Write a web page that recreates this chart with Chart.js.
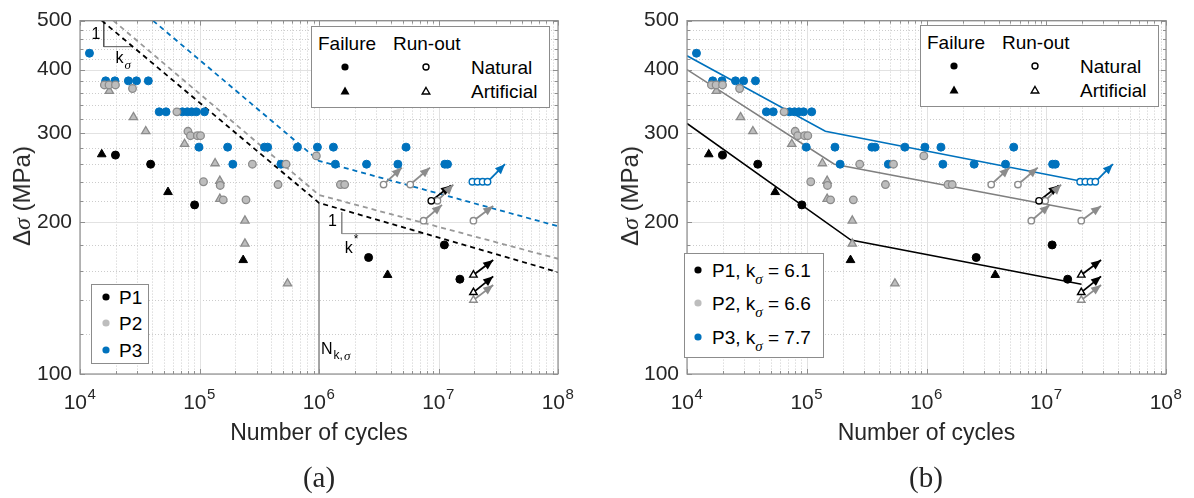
<!DOCTYPE html>
<html>
<head>
<meta charset="utf-8">
<title>S-N data</title>
<script src="https://cdn.jsdelivr.net/npm/chart.js@4.4.1/dist/chart.umd.min.js"></script>
<style>
  body { margin: 0; background: #fff; }
  #wrap { position: relative; width: 1194px; height: 498px; overflow: hidden;
          font-family: "Liberation Sans", Arial, Helvetica, sans-serif; color: #262626; }
  canvas { position: absolute; top: 0; }
  #chartA { left: 0; }
  #chartB { left: 597px; }
  .ylab { position: absolute; font-size: 24px; white-space: nowrap; transform: translate(-50%, -50%) rotate(-90deg); }
  .cap { position: absolute; font-family: "Liberation Serif", "DejaVu Serif", serif; font-size: 29px; transform: translate(-50%, -50%); }
  .box { position: absolute; border: 1px solid #8c8c8c; background: #fff; box-sizing: border-box; }
  .lg { position: absolute; font-size: 19px; line-height: 1; white-space: nowrap; color: #000; transform: translateY(-50%); }
  .mk { position: absolute; transform: translate(-50%, -50%); line-height: 0; }
  .sg { font-family: "Liberation Serif", "DejaVu Serif", serif; font-style: italic; font-size: 15px; position: relative; top: 7px; }
</style>
</head>
<body>
<div id="wrap">
  <canvas id="chartA" width="597" height="498"></canvas>
  <canvas id="chartB" width="597" height="498"></canvas>
  <div id="overlay"></div>
</div>
<script>
// ---------- axes ----------
const xTicks = [1e4, 1e5, 1e6, 1e7, 1e8];
const xTickExp = ['4', '5', '6', '7', '8'];
const yTicks = [100, 200, 300, 400, 500];

// ---------- P1 (black) ----------
const p1FailNatN = [1.98e4, 3.9e4, 9.1e4, 2.6e6, 1.12e7, 1.51e7];
const p1FailNatS = [271, 260, 216, 170, 180, 154];
const p1FailArtN = [1.52e4, 5.45e4, 2.32e5, 3.75e6];
const p1FailArtS = [272, 229, 168, 157];
const p1RunNatN = [8.7e6];
const p1RunNatS = [220];
const p1RunArtN = [1.96e7, 1.96e7];
const p1RunArtS = [157, 145];

// ---------- P2 (grey) ----------
const p2FailNatN = [1.6e4, 1.75e4, 1.98e4, 2.75e4, 6.47e4, 8.0e4, 8.4e4, 9.6e4, 1.02e5, 1.08e5, 1.49e5,
                    1.58e5, 2.45e5, 2.77e5, 4.54e5, 5.3e5, 9.5e5, 1.51e6, 1.64e6];
const p2FailNatS = [373, 373, 373, 367, 330, 302, 296, 296, 296, 240, 236,
                    221, 221, 260, 237, 260, 270, 237, 237];
const p2FailArtN = [1.76e4, 2.8e4, 3.55e4, 7.5e4, 1.35e5, 1.48e5, 1.48e5, 2.4e5, 2.4e5, 5.45e5];
const p2FailArtS = [363, 322, 302, 285, 261, 241, 222, 201, 181, 151];
const p2RunNatN = [3.47e6, 5.8e6, 9.8e6, 7.5e6, 1.96e7];
const p2RunNatS = [237, 237, 220, 201, 201];
const p2RunArtN = [1.96e7];
const p2RunArtS = [140];

// ---------- P3 (blue) ----------
const p3FailNatN = [1.2e4, 1.64e4, 1.96e4, 2.54e4, 2.97e4, 3.73e4, 4.6e4, 5.25e4, 7.2e4, 7.9e4, 8.6e4, 9.4e4,
                    1.1e5, 9.9e4, 1.72e5, 3.5e5, 3.72e5, 6.6e5, 9.7e5, 1.32e6, 5.35e6, 1.9e5, 4.8e5,
                    1.37e6, 2.5e6, 4.57e6, 1.13e7, 1.19e7];
const p3FailNatS = [431, 380, 380, 380, 380, 380, 330, 330, 330, 330, 330, 330,
                    330, 281, 281, 281, 281, 281, 281, 281, 281, 260, 260,
                    260, 260, 260, 260, 260];
const p3RunNatN = [1.92e7, 2.12e7, 2.34e7, 2.57e7];
const p3RunNatS = [240, 240, 240, 240];

// ---------- run-out arrows (start -> end) ----------
const p1ArrowN0 = [8.7e6, 1.96e7, 1.96e7];
const p1ArrowS0 = [220, 157, 145];
const p1ArrowN1 = [1.27e7, 2.87e7, 2.87e7];
const p1ArrowS1 = [236, 168, 156];
const p2ArrowN0 = [3.47e6, 5.8e6, 9.8e6, 7.5e6, 1.96e7, 1.96e7];
const p2ArrowS0 = [237, 237, 220, 201, 201, 140];
const p2ArrowN1 = [4.94e6, 8.5e6, 1.33e7, 1.07e7, 2.87e7, 2.87e7];
const p2ArrowS1 = [256, 256, 237, 216, 215, 150];
const p3ArrowN0 = [2.57e7];
const p3ArrowS0 = [240];
const p3ArrowN1 = [3.6e7];
const p3ArrowS1 = [260];

// ---------- (a) design curves, dashed ----------
const dashP1N = [1.52e4, 1e6, 1e8];
const dashP1S = [500, 218, 159];
const dashP2N = [1.9e4, 1e6, 1e8];
const dashP2S = [500, 226, 169];
const dashP3N = [4.08e4, 1e6, 1e8];
const dashP3S = [500, 264, 196];
// slope triangles and knee line
const slope1N = [1.58e4, 1.58e4, 2.78e4];
const slope1S = [500, 444, 444];
const slope2N = [1.55e6, 1.55e6, 7.5e6];
const slope2S = [209, 189.5, 189.5];
const kneeN = [1e6, 1e6];
const kneeS = [218, 100];

// ---------- (b) fitted curves ----------
const fitP1N = [1e4, 2.34e5, 1.97e7];
const fitP1S = [313, 184, 150.5];
const fitP2N = [1e4, 1.7e5, 1.97e7];
const fitP2S = [400, 260, 210];
const fitP3N = [1e4, 1.43e5, 1.97e7];
const fitP3S = [426, 302, 240.5];

const BLACK = '#000000', GREY = '#8c8c8c', GREYFILL = '#bdbdbd', BLUE = '#0072BD';
const SANS = '"Liberation Sans", Arial, Helvetica, sans-serif';
const SERIF = '"Liberation Serif", "DejaVu Serif", serif';
Chart.defaults.font.family = SANS;
Chart.defaults.color = '#262626';

// grid positions (minor: 2..9 per decade, every 20 MPa)
const xMinor = [];
for (let e = 4; e < 8; e++) for (let k = 2; k <= 9; k++) xMinor.push(k * Math.pow(10, e));
const yMinor = [];
for (let v = 120; v < 500; v += 20) if (v % 100 !== 0) yMinor.push(v);

function pts(N, S) { return N.map((n, i) => ({ x: n, y: S[i] })); }

function markers(N, S, style, fill, edge, r, bw) {
  return { data: pts(N, S), showLine: false, pointStyle: style, pointRadius: r, pointHoverRadius: r,
           pointBackgroundColor: fill, pointBorderColor: edge, pointBorderWidth: bw };
}
function line(N, S, color, width, dash) {
  return { data: pts(N, S), showLine: true, borderColor: color, borderWidth: width, borderDash: dash || [],
           pointRadius: 0, fill: false, tension: 0 };
}
function arrows(N0, S0, N1, S1, color) {
  return N0.map((n, i) => ({ data: [{ x: n, y: S0[i] }, { x: N1[i], y: S1[i] }], showLine: true,
    borderColor: color, borderWidth: 1.8, pointRadius: 0, arrowHead: true }));
}

function pointSets() {
  return [
    markers(p1FailNatN, p1FailNatS, 'circle', BLACK, BLACK, 4, 1),
    markers(p1FailArtN, p1FailArtS, 'triangle', BLACK, BLACK, 5, 1),
    markers(p1RunNatN, p1RunNatS, 'circle', '#fff', BLACK, 3.2, 1.4),
    markers(p1RunArtN, p1RunArtS, 'triangle', '#fff', BLACK, 4.3, 1.4),
    markers(p2FailNatN, p2FailNatS, 'circle', GREYFILL, GREY, 3.8, 1.3),
    markers(p2FailArtN, p2FailArtS, 'triangle', GREYFILL, GREY, 4.8, 1.3),
    markers(p2RunNatN, p2RunNatS, 'circle', '#fff', GREY, 3.2, 1.4),
    markers(p2RunArtN, p2RunArtS, 'triangle', '#fff', GREY, 4.3, 1.4),
    markers(p3FailNatN, p3FailNatS, 'circle', BLUE, BLUE, 4, 1),
    markers(p3RunNatN, p3RunNatS, 'circle', '#fff', BLUE, 3.2, 1.4),
    ...arrows(p1ArrowN0, p1ArrowS0, p1ArrowN1, p1ArrowS1, BLACK),
    ...arrows(p2ArrowN0, p2ArrowS0, p2ArrowN1, p2ArrowS1, GREY),
    ...arrows(p3ArrowN0, p3ArrowS0, p3ArrowN1, p3ArrowS1, BLUE)
  ];
}

// grid, box, inner tick marks and 10^n labels like the original plotting tool
const frame = {
  id: 'frame',
  beforeDatasetsDraw(chart) {
    const { ctx, chartArea: a, scales: { x, y } } = chart;
    ctx.save();
    ctx.lineWidth = 1;
    const v = (val, dash, col) => {
      const p = Math.round(x.getPixelForValue(val)) + 0.5;
      ctx.setLineDash(dash); ctx.strokeStyle = col;
      ctx.beginPath(); ctx.moveTo(p, a.top); ctx.lineTo(p, a.bottom); ctx.stroke();
    };
    const h = (val, dash, col) => {
      const p = Math.round(y.getPixelForValue(val)) + 0.5;
      ctx.setLineDash(dash); ctx.strokeStyle = col;
      ctx.beginPath(); ctx.moveTo(a.left, p); ctx.lineTo(a.right, p); ctx.stroke();
    };
    xMinor.forEach(val => v(val, [1, 2], '#cccccc'));
    yMinor.forEach(val => h(val, [1, 2], '#cccccc'));
    xTicks.forEach(val => v(val, [], '#e2e2e2'));
    yTicks.forEach(val => h(val, [], '#e2e2e2'));
    ctx.restore();
  },
  afterDatasetsDraw(chart) {
    const { ctx, chartArea: a, scales: { x, y } } = chart;
    ctx.save();
    // arrow heads on run-out arrows
    chart.data.datasets.forEach((ds, i) => {
      if (!ds.arrowHead) return;
      const m = chart.getDatasetMeta(i).data;
      const p0 = m[0], p1 = m[1];
      const ang = Math.atan2(p1.y - p0.y, p1.x - p0.x);
      const L = 10, W = 4.2;
      ctx.fillStyle = ds.borderColor;
      ctx.beginPath();
      ctx.moveTo(p1.x, p1.y);
      ctx.lineTo(p1.x - L * Math.cos(ang) + W * Math.sin(ang), p1.y - L * Math.sin(ang) - W * Math.cos(ang));
      ctx.lineTo(p1.x - L * Math.cos(ang) - W * Math.sin(ang), p1.y - L * Math.sin(ang) + W * Math.cos(ang));
      ctx.closePath();
      ctx.fill();
    });
    // box + ticks
    ctx.strokeStyle = '#8f8f8f';
    ctx.lineWidth = 1.2;
    ctx.strokeRect(a.left, a.top, a.width, a.height);
    ctx.lineWidth = 1;
    const tx = (val, len) => {
      const p = Math.round(x.getPixelForValue(val)) + 0.5;
      ctx.beginPath();
      ctx.moveTo(p, a.bottom); ctx.lineTo(p, a.bottom - len);
      ctx.moveTo(p, a.top); ctx.lineTo(p, a.top + len);
      ctx.stroke();
    };
    const ty = (val, len) => {
      const p = Math.round(y.getPixelForValue(val)) + 0.5;
      ctx.beginPath();
      ctx.moveTo(a.left, p); ctx.lineTo(a.left + len, p);
      ctx.moveTo(a.right, p); ctx.lineTo(a.right - len, p);
      ctx.stroke();
    };
    xMinor.forEach(val => tx(val, 3));
    xTicks.forEach(val => tx(val, 5));
    yMinor.forEach(val => ty(val, 3));
    yTicks.forEach(val => ty(val, 5));
    // x tick labels: 10 with raised exponent
    ctx.fillStyle = '#262626';
    ctx.textBaseline = 'middle';
    xTicks.forEach((val, i) => {
      const p = x.getPixelForValue(val);
      ctx.font = '21px ' + SANS;
      ctx.textAlign = 'right';
      ctx.fillText('10', p + 7, a.bottom + 29);
      ctx.font = '15px ' + SANS;
      ctx.textAlign = 'left';
      ctx.fillText(xTickExp[i], p + 7.5, a.bottom + 21);
    });
    ctx.restore();
  }
};

// text notes anchored to data coordinates
const notes = {
  id: 'notes',
  afterDatasetsDraw(chart, args, opts) {
    const { ctx, scales: { x, y } } = chart;
    ctx.save();
    ctx.fillStyle = '#000';
    ctx.textBaseline = 'middle';
    ctx.textAlign = 'left';
    (opts.items || []).forEach(it => {
      let px = x.getPixelForValue(it.n);
      const py = y.getPixelForValue(it.s);
      it.runs.forEach(r => {
        ctx.font = r.font;
        ctx.fillText(r.t, px, py + (r.dy || 0));
        px += ctx.measureText(r.t).width + 1;
      });
    });
    ctx.restore();
  }
};

function options(padLeft, padRight, noteItems) {
  return {
    animation: false, responsive: false, events: [],
    layout: { padding: { left: padLeft, right: padRight, top: 18, bottom: 51 }, autoPadding: false },
    plugins: { legend: { display: false }, tooltip: { enabled: false }, notes: { items: noteItems } },
    scales: {
      x: {
        type: 'logarithmic', min: 1e4, max: 1e8,
        afterBuildTicks: s => { s.ticks = xTicks.map(v => ({ value: v })); },
        afterFit: s => { s.height = 73; },
        grid: { display: false, drawTicks: false }, border: { display: false },
        ticks: { display: false },
        title: { display: true, text: 'Number of cycles', color: '#262626', font: { size: 23 },
                 padding: { top: 0, bottom: 0 } }
      },
      y: {
        type: 'logarithmic', min: 100, max: 500,
        afterBuildTicks: s => { s.ticks = yTicks.map(v => ({ value: v })); },
        afterFit: s => { s.width = 80; },
        grid: { display: false, drawTicks: false }, border: { display: false },
        ticks: { padding: 8, color: '#262626', font: { size: 21 }, callback: v => String(v) }
      }
    }
  };
}

const F16 = '16px ' + SANS, F12 = '12px ' + SANS, IT13 = 'italic 13px ' + SERIF;

new Chart(document.getElementById('chartA'), {
  type: 'scatter',
  data: { datasets: [
    ...pointSets(),
    line(dashP1N, dashP1S, BLACK, 1.8, [5, 4]),
    line(dashP2N, dashP2S, '#999999', 1.8, [5, 4]),
    line(dashP3N, dashP3S, BLUE, 1.8, [5, 4]),
    line(slope1N, slope1S, '#555555', 1),
    line(slope2N, slope2S, '#888888', 1),
    line(kneeN, kneeS, '#999999', 1)
  ] },
  options: options(0, 39, [
    { n: 1.25e4, s: 470, runs: [{ t: '1', font: F16 }] },
    { n: 1.98e4, s: 421, runs: [{ t: 'k', font: F16 }, { t: '\u03c3', font: IT13, dy: 7 }] },
    { n: 1.04e6, s: 112, runs: [{ t: 'N', font: F16 }, { t: 'k,', font: F12, dy: 7 }, { t: '\u03c3', font: IT13, dy: 7 }] },
    { n: 1.19e6, s: 200, runs: [{ t: '1', font: F16 }] },
    { n: 1.64e6, s: 177, runs: [{ t: 'k', font: F16 }, { t: '*', font: F12, dy: -9 }] }
  ]),
  plugins: [frame, notes]
});

new Chart(document.getElementById('chartB'), {
  type: 'scatter',
  data: { datasets: [
    ...pointSets(),
    line(fitP1N, fitP1S, BLACK, 1.6),
    line(fitP2N, fitP2S, '#808080', 1.6),
    line(fitP3N, fitP3S, BLUE, 1.6)
  ] },
  options: options(10, 28, []),
  plugins: [frame, notes]
});

// ---------- overlay texts: axis labels, legends, captions ----------
const dot = c => `<svg width="10" height="10"><circle cx="5" cy="5" r="3.6" fill="${c}"/></svg>`;
const ring = c => `<svg width="10" height="10"><circle cx="5" cy="5" r="3" fill="none" stroke="${c}" stroke-width="1.4"/></svg>`;
const tri = c => `<svg width="12" height="12"><polygon points="6,1.5 10.5,9.5 1.5,9.5" fill="${c}"/></svg>`;
const triO = c => `<svg width="12" height="12"><polygon points="6,2.5 9.8,9 2.2,9" fill="none" stroke="${c}" stroke-width="1.4"/></svg>`;

function at(cls, l, t, html, extra) {
  return `<div class="${cls}" style="left:${l}px;top:${t}px;${extra || ''}">${html}</div>`;
}
function topLegend(L, T) {
  return at('box', L, T, '', 'width:239px;height:82px') +
    at('lg', L + 7, T + 17, 'Failure') + at('lg', L + 82, T + 17, 'Run-out') +
    at('mk', L + 34, T + 41, dot(BLACK)) + at('mk', L + 115, T + 41, ring(BLACK)) +
    at('lg', L + 160, T + 41, 'Natural') +
    at('mk', L + 34, T + 65, tri(BLACK)) + at('mk', L + 115, T + 65, triO(BLACK)) +
    at('lg', L + 160, T + 65, 'Artificial');
}
const sig = '<span class="sg">\u03c3</span>';
const ySig = '\u0394<span style="font-family:' + SERIF.replace(/"/g, "'") + ';font-style:italic">\u03c3</span> (MPa)';
let html = '';
html += at('ylab', 22, 196, ySig) + at('ylab', 630, 196, ySig);
html += topLegend(311, 26) + topLegend(920, 25);
// legend (a)
html += at('box', 91, 284, '', 'width:58px;height:80px');
html += at('mk', 106, 297, dot(BLACK)) + at('lg', 119, 297, 'P1');
html += at('mk', 106, 323, dot(GREYFILL)) + at('lg', 119, 323, 'P2');
html += at('mk', 106, 350, dot(BLUE)) + at('lg', 119, 350, 'P3');
// legend (b)
html += at('box', 684, 253, '', 'width:140px;height:105px');
html += at('mk', 698, 270, dot(BLACK)) + at('lg', 712, 270, 'P1, k' + sig + ' = 6.1');
html += at('mk', 698, 303, dot(GREYFILL)) + at('lg', 712, 303, 'P2, k' + sig + ' = 6.6');
html += at('mk', 698, 337, dot(BLUE)) + at('lg', 712, 337, 'P3, k' + sig + ' = 7.7');
html += at('cap', 319, 477, '(a)') + at('cap', 926, 477, '(b)');
document.getElementById('overlay').innerHTML = html;
</script>
</body>
</html>
